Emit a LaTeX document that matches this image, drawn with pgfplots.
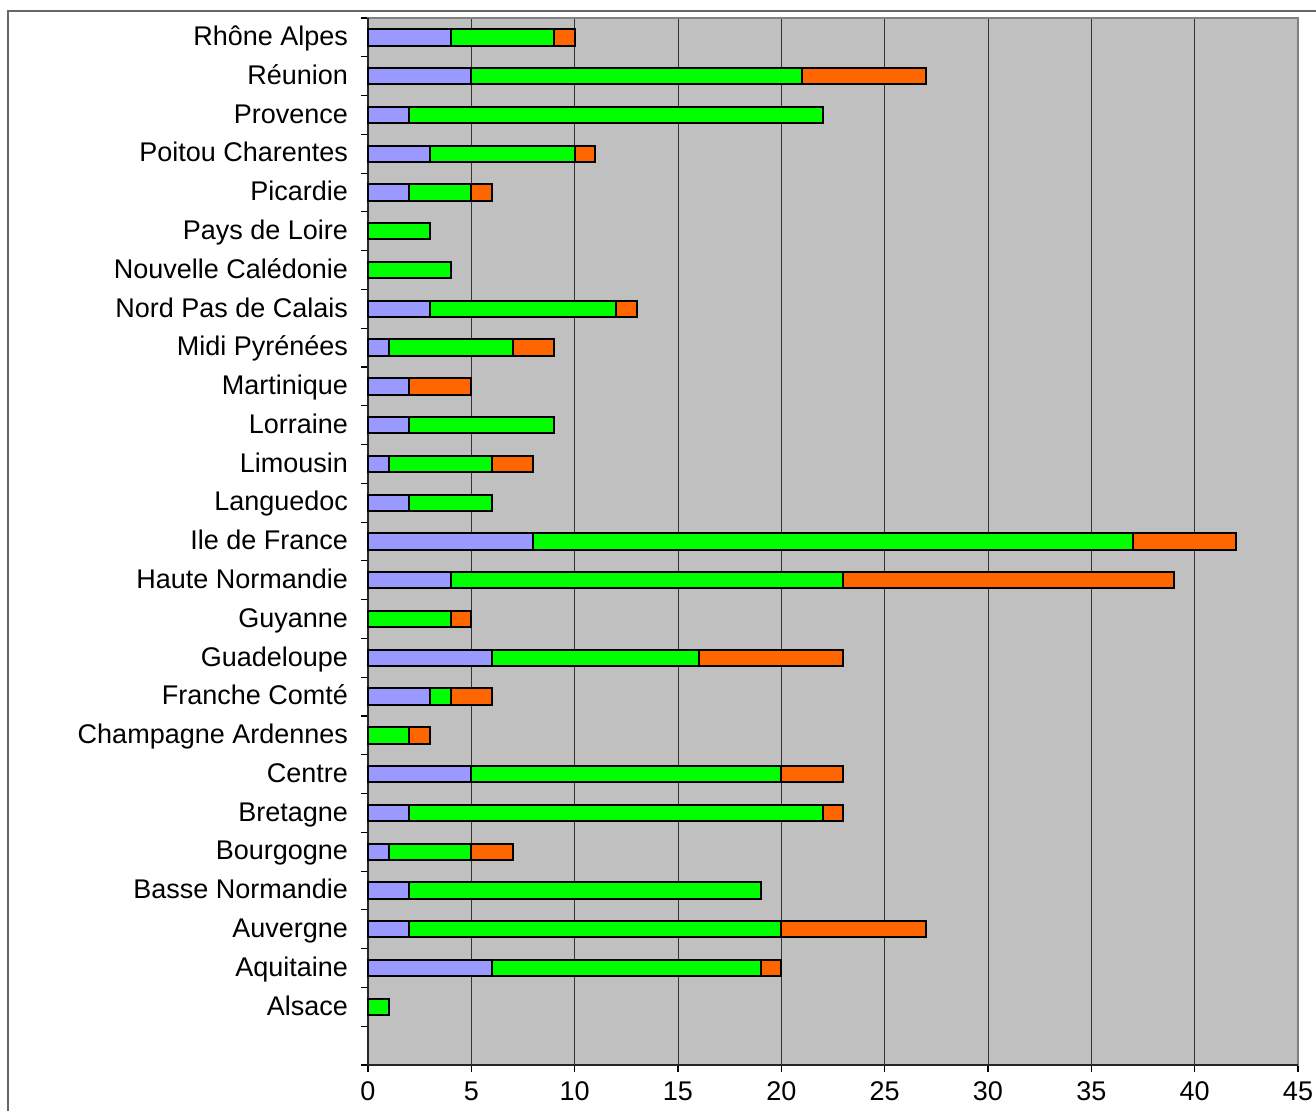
\documentclass[border=0pt]{standalone}
\usepackage{fontspec}
\setmainfont{Liberation Sans}
\usepackage{pgfplots}
\usepackage{pgfplotstable}
\pgfplotsset{compat=1.18}

\definecolor{cblue}{HTML}{9999FF}
\definecolor{cgreen}{HTML}{00FF00}
\definecolor{corange}{HTML}{FF6600}
\definecolor{cbg}{HTML}{C0C0C0}

% index, blue, green, orange (bottom to top)
\pgfplotstableread{
idx a  b  c
0   0  1  0
1   6  13 1
2   2  18 7
3   2  17 0
4   1  4  2
5   2  20 1
6   5  15 3
7   0  2  1
8   3  1  2
9   6  10 7
10  0  4  1
11  4  19 16
12  8  29 5
13  2  4  0
14  1  5  2
15  2  7  0
16  2  0  3
17  1  6  2
18  3  9  1
19  0  4  0
20  0  3  0
21  2  3  1
22  3  7  1
23  2  20 0
24  5  16 6
25  4  5  1
}\regions

\begin{document}
\begin{tikzpicture}
\begin{axis}[
    name=ax,
    scale only axis,
    width=465pt, height=523.5pt,
    xbar stacked,
    bar width=0.42,
    xmin=0, xmax=45,
    ymin=-1.5, ymax=25.5,
    xtick={0,5,...,45},
    ytick={0,...,25},
    yticklabels={Alsace, Aquitaine, Auvergne, Basse Normandie, Bourgogne,
        Bretagne, Centre, Champagne Ardennes, Franche Comté, Guadeloupe,
        Guyanne, Haute Normandie, Ile de France, Languedoc, Limousin,
        Lorraine, Martinique, Midi Pyrénées, Nord Pas de Calais,
        Nouvelle Calédonie, Pays de Loire, Picardie, Poitou Charentes,
        Provence, Réunion, Rhône Alpes},
    minor ytick={-1.5,-0.5,...,25.5},
    xtick pos=lower, ytick pos=left,
    ymajorgrids=false,
    xmajorgrids,
    major grid style={black!80, line width=0.5pt},
    tick align=outside,
    major x tick style={black, line width=0.6pt},
    major y tick style={draw=none},
    minor y tick style={black, line width=0.6pt},
    major tick length=3.5pt,
    minor tick length=3.5pt,
    axis line style={gray, line width=0.6pt},
    axis background/.style={fill=cbg},
    tick label style={font=\fontsize{13.5}{16}\selectfont},
    /pgf/number format/assume math mode=true,
    yticklabel style={xshift=-3pt, text height=2.0ex, text depth=0.45ex},
    xticklabel style={yshift=-3pt, text height=1.5ex, text depth=0pt},
    every axis plot/.append style={draw=black, line width=1pt},
    clip=false,
]
\addplot[fill=cblue, draw=black] table[x=a, y=idx] {\regions};
\addplot[fill=cgreen, draw=black] table[x=b, y=idx] {\regions};
\addplot[fill=corange, draw=black] table[x=c, y=idx] {\regions};
\draw[black!85, line width=0.8pt] (rel axis cs:0,1) -- (rel axis cs:0,0) -- (rel axis cs:1,0);
\end{axis}
\draw[black!60, line width=0.8pt] ([shift={(-180pt,-60pt)}]ax.south west) rectangle ([shift={(40pt,3.5pt)}]ax.north east);
\pgfresetboundingbox
\path ([shift={(-184pt,-22.5pt)}]ax.south west) rectangle ([shift={(9pt,9pt)}]ax.north east);
\end{tikzpicture}
\end{document}
